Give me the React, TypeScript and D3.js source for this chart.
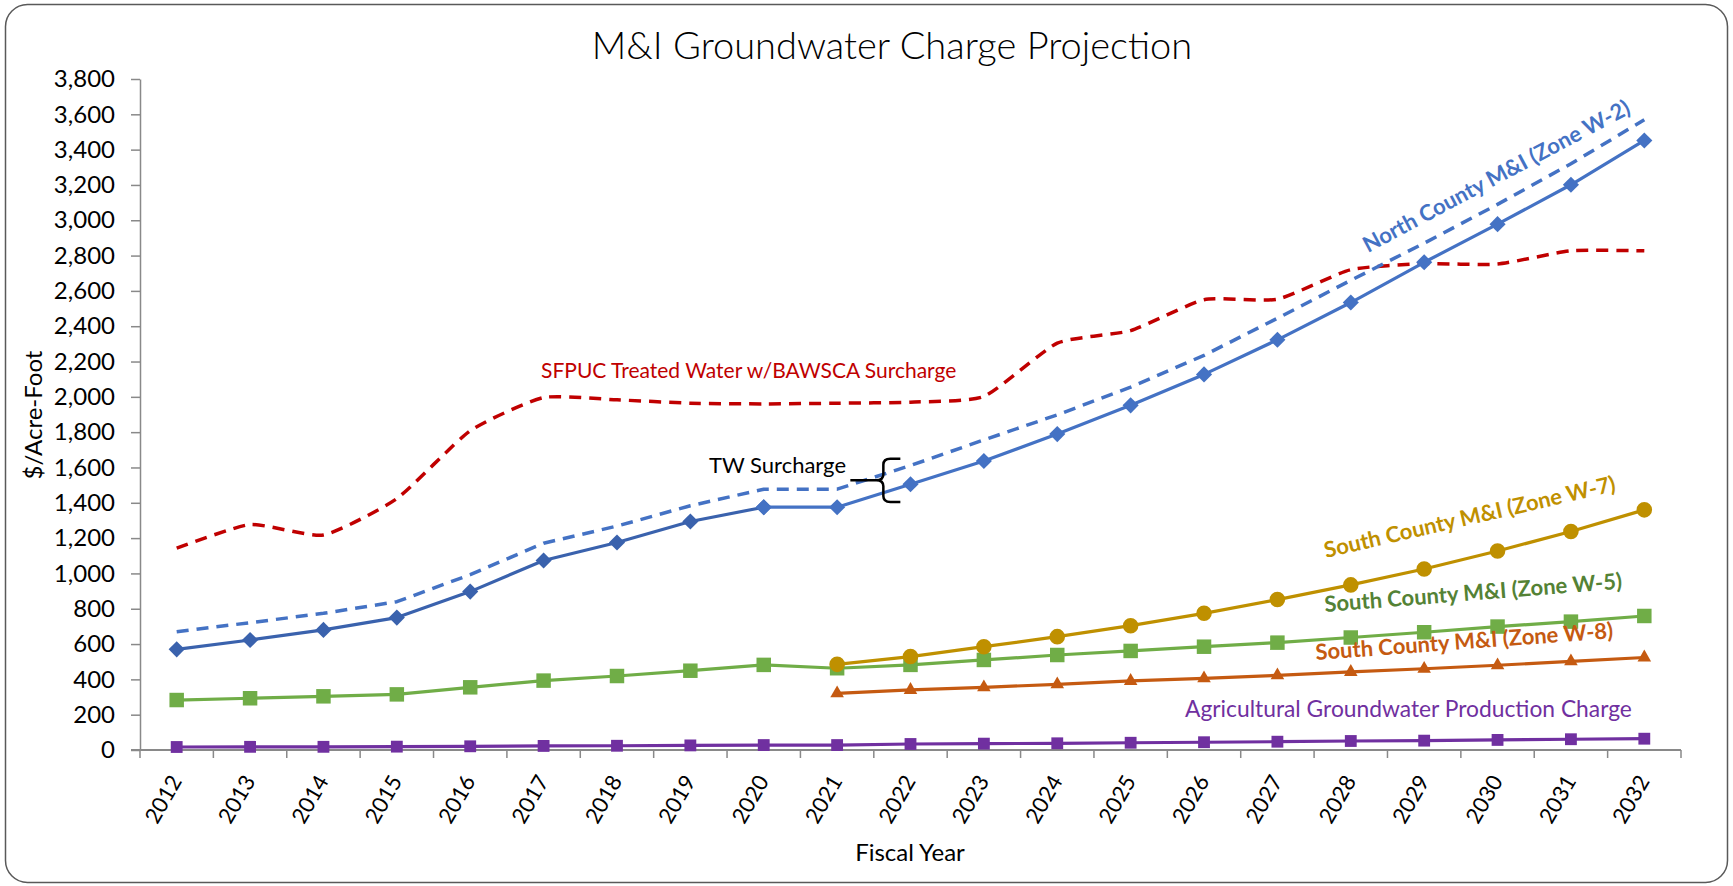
import * as d3 from "d3";
import { useEffect, useRef } from "react";

// fiscal years on the x axis
const years = [
    "2012", "2013", "2014", "2015", "2016", "2017", "2018", "2019", "2020", "2021", "2022",
    "2023", "2024", "2025", "2026", "2027", "2028", "2029", "2030", "2031", "2032",
];

const yTicks = [0, 200, 400, 600, 800, 1000, 1200, 1400, 1600, 1800, 2000, 2200, 2400, 2600, 2800, 3000, 3200, 3400, 3600, 3800];

// North County M&I (Zone W-2), actuals 2012-2020
const ncHistorical = [570, 623, 680, 750, 897, 1073, 1175, 1294, 1375];
// North County M&I (Zone W-2), projection 2020-2032
const ncProjected = [1375, 1375, 1505, 1637, 1789, 1952, 2127, 2323, 2534, 2762, 2978, 3201, 3452];
// North County incl. TW surcharge, 2012-2032
const ncWithSurcharge = [670, 721, 774, 840, 993, 1171, 1268, 1383, 1477, 1477, 1611, 1756, 1898, 2055, 2235, 2445, 2660, 2870, 3090, 3320, 3569];
// SFPUC treated water w/ BAWSCA surcharge, 2012-2032
const sfpuc = [1143, 1277, 1218, 1424, 1808, 1996, 1983, 1964, 1960, 1964, 1970, 2002, 2304, 2375, 2550, 2553, 2720, 2754, 2752, 2827, 2827];
// South County M&I (Zone W-5), 2012-2032
const southW5 = [283, 293, 304, 315, 355, 393, 419, 449, 482, 463, 482, 510, 538, 561, 585, 608, 637, 667, 699, 727, 759];
// South County M&I (Zone W-7), 2021-2032
const southW7 = [485, 529, 585, 642, 704, 774, 852, 935, 1025, 1127, 1237, 1360];
// South County M&I (Zone W-8), 2021-2032
const southW8 = [321, 340, 355, 372, 391, 406, 423, 442, 460, 480, 502, 524];
// Agricultural groundwater production charge, 2012-2032
const agCharge = [17, 18, 18, 19, 21, 23, 24, 26, 28, 28, 34, 36, 38, 41, 44, 47, 51, 53, 57, 61, 64];

const WIDTH = 1733;
const HEIGHT = 886;
const FONT = "Lato, 'Open Sans', sans-serif";

interface Series {
    values: number[];
    start: number; // index into years
    color: string;
    dash?: string;
    smooth?: boolean;
    marker?: "diamond" | "square" | "circle" | "triangle";
    markerSize?: number;
}

export default function App() {
    const ref = useRef<SVGSVGElement | null>(null);

    useEffect(() => {
        if (!ref.current) return;
        const svg = d3.select(ref.current);
        svg.selectAll("*").remove();

        const margin = { left: 140, right: WIDTH - 1681, top: 79, bottom: HEIGHT - 750 };
        const x = d3.scaleBand<string>().domain(years).range([margin.left, WIDTH - margin.right]).padding(0);
        const y = d3.scaleLinear().domain([0, 3800]).range([HEIGHT - margin.bottom, margin.top]);
        const cx = (i: number) => x(years[i])! + x.bandwidth() / 2;

        // chart frame
        svg.append("rect")
            .attr("x", 5.5).attr("y", 4.5)
            .attr("width", 1722).attr("height", 878)
            .attr("rx", 22)
            .attr("fill", "#fff")
            .attr("stroke", "#595959")
            .attr("stroke-width", 1.5);

        // title
        svg.append("text")
            .attr("x", 892).attr("y", 59)
            .attr("text-anchor", "middle")
            .attr("font-family", FONT)
            .attr("font-size", 38)
            .attr("font-weight", 300)
            .attr("fill", "#000")
            .text("M&I Groundwater Charge Projection");

        // y axis
        const yAxis = svg.append("g")
            .attr("transform", `translate(${margin.left},0)`)
            .call(d3.axisLeft(y).tickValues(yTicks).tickFormat(d3.format(",")).tickSize(9).tickSizeOuter(0).tickPadding(16));
        yAxis.select(".domain").attr("stroke", "#898989").attr("stroke-width", 1.5);
        yAxis.selectAll(".tick line").attr("stroke", "#898989").attr("stroke-width", 1.5);
        yAxis.selectAll(".tick text")
            .attr("font-family", FONT)
            .attr("font-size", 24)
            .attr("fill", "#000");

        // x axis (ticks on category boundaries)
        const xg = svg.append("g");
        const x0 = x.range()[0], x1 = x.range()[1], yBase = y(0);
        xg.selectAll("line.xtick")
            .data(d3.range(years.length + 1))
            .join("line")
            .attr("class", "xtick")
            .attr("x1", i => x0 + i * x.step()).attr("x2", i => x0 + i * x.step())
            .attr("y1", yBase).attr("y2", yBase + 8)
            .attr("stroke", "#898989").attr("stroke-width", 1.5);
        xg.append("line")
            .attr("x1", x0 - 9).attr("x2", x1)
            .attr("y1", yBase).attr("y2", yBase)
            .attr("stroke", "#898989").attr("stroke-width", 2.2);
        xg.selectAll("text")
            .data(years)
            .join("text")
            .attr("transform", (d, i) => `translate(${cx(i) + 6},${yBase + 31}) rotate(-60)`)
            .attr("text-anchor", "end")
            .attr("font-family", FONT)
            .attr("font-size", 22)
            .attr("fill", "#000")
            .text(d => d);

        // axis titles
        svg.append("text")
            .attr("x", 910).attr("y", 861)
            .attr("text-anchor", "middle")
            .attr("font-family", FONT).attr("font-size", 24)
            .text("Fiscal Year");
        svg.append("text")
            .attr("transform", `translate(42,415) rotate(-90)`)
            .attr("text-anchor", "middle")
            .attr("font-family", FONT).attr("font-size", 24)
            .text("$/Acre-Foot");

        const series: Series[] = [
            { values: sfpuc, start: 0, color: "#C00000", dash: "12 8", smooth: true },
            { values: ncWithSurcharge, start: 0, color: "#4472C4", dash: "12 8" },
            { values: southW5, start: 0, color: "#70AD47", marker: "square", markerSize: 210 },
            { values: southW7, start: 9, color: "#BF9000", marker: "circle", markerSize: 190 },
            { values: southW8, start: 9, color: "#C55A11", marker: "triangle", markerSize: 80 },
            { values: agCharge, start: 0, color: "#7030A0", marker: "square", markerSize: 140 },
            { values: ncHistorical, start: 0, color: "#3A62AD", marker: "diamond", markerSize: 130 },
            { values: ncProjected, start: 8, color: "#4472C4", marker: "diamond", markerSize: 130 },
        ];

        const plot = svg.append("g");
        series.forEach(s => {
            const pts: [number, number][] = s.values.map((v, i) => [cx(s.start + i), y(v)]);
            const line = d3.line().curve(s.smooth ? d3.curveCardinal.tension(0.45) : d3.curveLinear);
            plot.append("path")
                .attr("d", line(pts) ?? "")
                .attr("fill", "none")
                .attr("stroke", s.color)
                .attr("stroke-width", s.dash ? 3.5 : 3.2)
                .attr("stroke-dasharray", s.dash ?? null)
                .attr("stroke-linejoin", "round");

            if (s.marker) {
                const type = s.marker === "circle" ? d3.symbolCircle
                    : s.marker === "triangle" ? d3.symbolTriangle
                    : d3.symbolSquare;
                const sym = d3.symbol().type(type).size(s.markerSize ?? 100);
                plot.selectAll(null)
                    .data(pts)
                    .join("path")
                    .attr("d", sym() ?? "")
                    .attr("transform", d => `translate(${d[0]},${d[1]})${s.marker === "diamond" ? " rotate(45)" : ""}`)
                    .attr("fill", s.color);
            }
        });

        // annotations
        const ann = svg.append("g").attr("font-family", FONT);
        ann.append("text")
            .attr("x", 541).attr("y", 378)
            .attr("font-size", 21).attr("fill", "#C00000")
            .text("SFPUC Treated Water w/BAWSCA Surcharge");
        ann.append("text")
            .attr("x", 709).attr("y", 473)
            .attr("font-size", 22).attr("fill", "#000")
            .text("TW Surcharge");

        // brace marking the TW surcharge gap
        const bx = cx(9) + 0.63 * x.step();
        const bTop = y(1650), bBot = y(1405), bMid = (bTop + bBot) / 2;
        ann.append("path")
            .attr("d", `M${bx + 17},${bTop} H${bx + 7} Q${bx},${bTop} ${bx},${bTop + 6} V${bMid - 6} Q${bx},${bMid} ${bx - 7},${bMid} Q${bx},${bMid} ${bx},${bMid + 6} V${bBot - 6} Q${bx},${bBot} ${bx + 7},${bBot} H${bx + 17} M${bx - 33},${bMid} H${bx - 7}`)
            .attr("fill", "none").attr("stroke", "#000").attr("stroke-width", 2.5);

        const labels = [
            { text: "North County M&I (Zone W-2)", x: 1368, y: 253, angle: -28, color: "#4472C4" },
            { text: "South County M&I (Zone W-7)", x: 1326, y: 558, angle: -13, color: "#BF9000" },
            { text: "South County M&I (Zone W-5)", x: 1325, y: 612, angle: -4.5, color: "#548235" },
            { text: "South County M&I (Zone W-8)", x: 1316, y: 660, angle: -4.2, color: "#C55A11" },
        ];
        ann.selectAll("text.lbl")
            .data(labels)
            .join("text")
            .attr("class", "lbl")
            .attr("transform", d => `translate(${d.x},${d.y}) rotate(${d.angle})`)
            .attr("font-size", 22).attr("font-weight", "bold")
            .attr("fill", d => d.color)
            .text(d => d.text);
        ann.append("text")
            .attr("x", 1185).attr("y", 717)
            .attr("font-size", 22.8).attr("fill", "#7030A0")
            .text("Agricultural Groundwater Production Charge");
    }, []);

    return (
        <svg ref={ref} width={WIDTH} height={HEIGHT}
            style={{ position: "absolute", left: 0, top: 0, display: "block", background: "#fff" }} />
    );
}
